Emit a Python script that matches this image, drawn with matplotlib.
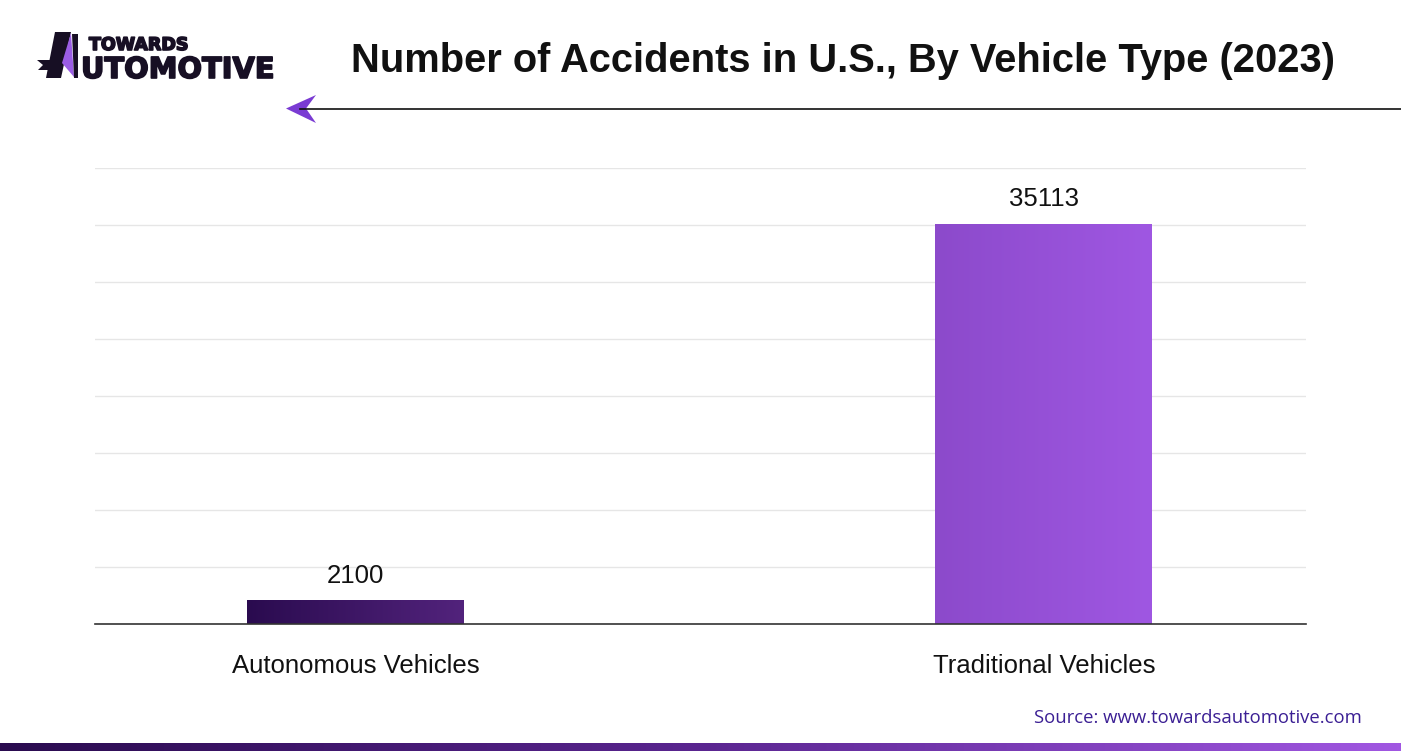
import numpy as np
import matplotlib.pyplot as plt
import matplotlib.patheffects as pe
from matplotlib.colors import LinearSegmentedColormap
from matplotlib.patches import Polygon

categories = ["Autonomous Vehicles", "Traditional Vehicles"]
accidents = [2100, 35113]
title = "Number of Accidents in U.S., By Vehicle Type (2023)"
source = "Source: www.towardsautomotive.com"

bar_colors = [("#2a0b4f", "#52237c"), ("#8c4acb", "#9f57e2")]

plt.rcParams['font.family'] = ['Liberation Sans', 'DejaVu Sans']

W, H = 1401, 751
fig = plt.figure(figsize=(W / 100, H / 100), dpi=100)

# overlay in pixel coordinates for decorations
ov = fig.add_axes([0, 0, 1, 1], zorder=0)
ov.set_xlim(0, W)
ov.set_ylim(H, 0)
ov.axis('off')

# main chart axes
ax = fig.add_axes([95 / W, (H - 624) / H, (1306 - 95) / W, (624 - 168) / H], zorder=1)
ax.patch.set_alpha(0)
x = np.arange(len(categories))
bars = ax.bar(x, accidents, width=0.315, color='none', zorder=3)
for b, (c0, c1) in zip(bars, bar_colors):
    cmap = LinearSegmentedColormap.from_list("g", [c0, c1])
    grad = np.linspace(0, 1, 256).reshape(1, -1)
    x0, y0 = b.get_x(), b.get_y()
    im = ax.imshow(grad, cmap=cmap, aspect='auto', zorder=3,
                   extent=(x0, x0 + b.get_width(), y0, y0 + b.get_height()))
    im.set_clip_path(b)
    ax.annotate(f"{b.get_height():.0f}", (b.get_x() + b.get_width() / 2, b.get_height()),
                xytext=(0, 9), textcoords='offset points', ha='center', va='bottom',
                fontsize=18.5, color='#111111')

ax.set_xlim(-0.379, 1.381)
ax.set_ylim(0, 40000)
ax.set_yticks(np.arange(0, 40001, 5000))
ax.yaxis.grid(True, color='#e6e6e6', lw=1)
ax.set_axisbelow(True)
ax.axhline(0, color='#333333', lw=1.2, zorder=4, clip_on=False)
for s in ax.spines.values():
    s.set_visible(False)
ax.tick_params(axis='y', left=False, labelleft=False)
ax.tick_params(axis='x', bottom=False, pad=18)
ax.set_xticks(x)
ax.set_xticklabels(categories, fontsize=18.5, color='#111111')

# title
fig.text(843 / W, 1 - 61 / H, title, ha='center', va='center',
         fontsize=28.7, fontweight='bold', color='#111111')

# header line with arrow
ov.plot([300, W], [109, 109], color='#111111', lw=1.2)
ov.add_patch(Polygon([(286, 108.5), (316, 95), (306, 108.5), (316, 123)],
                     closed=True, color='#7a3bd3', lw=0))

# logo
dark = '#170f24'
ov.add_patch(Polygon([(55, 32), (71, 32), (61, 78), (46, 78)], closed=True, color=dark, lw=0))
ov.add_patch(Polygon([(37, 60), (62, 60), (60, 70), (38, 70), (43, 65)],
                     closed=True, color=dark, lw=0))
ov.add_patch(Polygon([(71, 33), (62, 63), (74, 77)], closed=True, color='#9b5de5', lw=0))
ov.add_patch(Polygon([(72, 34), (78, 34), (78, 78), (74, 78)], closed=True, color=dark, lw=0))
heavy = [pe.withStroke(linewidth=1.2, foreground=dark)]
ov.text(89, 50, "TOWARDS", fontsize=12.6, fontweight='bold', color=dark, va='baseline',
        family='DejaVu Sans', path_effects=heavy)
ov.text(81, 78, "UTOMOTIVE", fontsize=20.8, fontweight='bold', color=dark, va='baseline',
        family='DejaVu Sans', path_effects=heavy)

# source
fig.text(1362 / W, 1 - 718 / H, source, ha='right', va='center',
         fontsize=13.3, color='#3b1f94', family=['Open Sans', 'DejaVu Sans'])

# bottom gradient strip
strip = LinearSegmentedColormap.from_list("s", ["#2a0b4f", "#5a2590", "#a157e2"])
ov.imshow(np.linspace(0, 1, 512).reshape(1, -1), cmap=strip, aspect='auto',
          extent=(0, W, H, 743))
ov.set_xlim(0, W)
ov.set_ylim(H, 0)

fig.savefig("out.png", dpi=100)
